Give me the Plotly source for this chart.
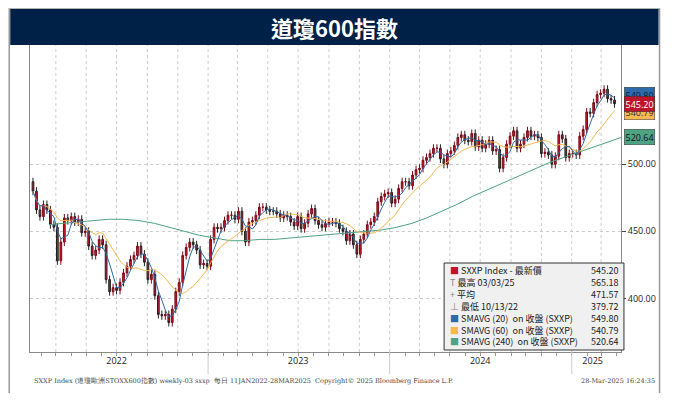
import pandas as pd
import plotly.graph_objects as go

closes_2022 = [480, 466, 461, 470, 466, 455, 453, 428, 442, 460, 458, 461, 457, 459, 449, 450,
               439, 432, 436, 444, 440, 414, 405, 408, 406, 412, 419, 424, 429, 432, 439, 433, 427,
               414, 418, 402, 388, 387, 388, 382, 392, 405, 412, 432, 438, 442, 440, 436, 425, 426, 424]
closes_2023 = [444, 453, 452, 453, 458, 462, 462, 459, 465, 450, 442, 457, 458, 462, 468, 468, 466,
               465, 465, 463, 460, 462, 461, 457, 454, 461, 452, 456, 463, 467, 458, 455, 453, 456,
               457, 457, 456, 452, 450, 443, 448, 440, 433, 444, 448, 455, 457, 461, 472, 476, 478, 479]
closes_2024 = [471, 474, 482, 487, 487, 484, 492, 496, 497, 503, 505, 508, 512, 512, 504, 500, 508, 510,
               514, 520, 522, 518, 517, 523, 513, 518, 512, 515, 518, 510, 511, 497, 505, 515, 521, 525,
               512, 515, 520, 525, 521, 522, 520, 508, 509, 507, 500, 506, 522, 519, 505, 508]
closes_2025 = [508, 507, 521, 526, 539, 538, 546, 552, 553, 556, 549, 548, 545.20]
first_open = 487

sma240_months = pd.date_range("2022-01-15", periods=39, freq="MS") + pd.Timedelta(days=14)
sma240_vals = [455, 456, 457, 458, 459, 459, 458, 456, 453, 450, 447, 445,
               443, 443, 444, 444, 445, 446, 447, 448, 449, 450, 451, 453,
               456, 460, 465, 470, 476, 481, 486, 491, 496, 501, 505, 509,
               513, 517, 520.64]

y_ticks = [400, 450, 500]
year_labels = ["2022", "2023", "2024", "2025"]
year_label_dates = ["2022-07-01", "2023-07-01", "2024-07-01", "2025-02-12"]

legend_rows = [("■", "#c0142c", "SXXP Index - 最新價", "545.20"),
               ("T", "#888", "最高 03/03/25", "565.18"),
               ("+", "#888", "平均", "471.57"),
               ("⊥", "#888", "最低 10/13/22", "379.72"),
               ("■", "#2f6aa8", "SMAVG (20)  on 收盤 (SXXP)", "549.80"),
               ("■", "#f7b84f", "SMAVG (60)  on 收盤 (SXXP)", "540.79"),
               ("■", "#4fa383", "SMAVG (240)  on 收盤 (SXXP)", "520.64")]

closes = closes_2022 + closes_2023 + closes_2024 + closes_2025
dates = pd.date_range("2022-01-14", periods=len(closes), freq="W-FRI")
s = pd.Series(closes, index=dates)
opens = [first_open] + closes[:-1]
highs = [max(o, c) + 3 for o, c in zip(opens, closes)]
lows = [min(o, c) - 3 for o, c in zip(opens, closes)]

OFF = 8  # page body margin
W, H = 676 - 2 * OFF, 401 - 2 * OFF
L, R, T, B = 30 - OFF, 628 - OFF, 45 - OFF, 352 - OFF
def px(x): return (x - OFF - L) / (R - L)
def py(y): return (B - (y - OFF)) / (B - T)

fig = go.Figure()
fig.add_trace(go.Candlestick(x=dates, open=opens, high=highs, low=lows, close=closes,
                             increasing=dict(line=dict(color="#7a0a16", width=1), fillcolor="#d0192f"),
                             decreasing=dict(line=dict(color="#222", width=1), fillcolor="#d0192f"),
                             whiskerwidth=0, showlegend=False))
fig.add_trace(go.Scatter(x=sma240_months, y=sma240_vals, mode="lines",
                         line=dict(color="#4fa383", width=1), showlegend=False))
fig.add_trace(go.Scatter(x=dates, y=s.rolling(12, min_periods=1).mean(), mode="lines",
                         line=dict(color="#f7b84f", width=1), showlegend=False))
fig.add_trace(go.Scatter(x=dates, y=s.rolling(4, min_periods=1).mean(), mode="lines",
                         line=dict(color="#2f6aa8", width=1), showlegend=False))

shapes = [
    dict(type="rect", xref="paper", yref="paper", x0=px(9), x1=px(667), y0=py(397), y1=py(9),
         line=dict(color="#999", width=1.5), fillcolor="rgba(0,0,0,0)", layer="below"),
    dict(type="rect", xref="paper", yref="paper", x0=px(10), x1=px(666), y0=py(45), y1=py(9),
         line=dict(width=0), fillcolor="#002147"),
    dict(type="rect", xref="paper", yref="paper", x0=px(449), x1=px(631), y0=py(350), y1=py(263),
         line=dict(color="#333", width=1), fillcolor="#f0f0f0"),
]
for g in pd.date_range("2022-03-01", "2025-03-01", freq="2MS"):
    shapes.append(dict(type="line", xref="x", yref="paper", x0=g, x1=g, y0=0, y1=1, layer="below",
                       line=dict(color="#ccc", width=1, dash="dot")))
for yr in ["2023-01-01", "2024-01-01", "2025-01-01"]:
    shapes.append(dict(type="line", xref="x", yref="paper", x0=yr, x1=yr, y0=py(352), y1=py(374),
                       line=dict(color="#ccc", width=1)))

ann = [dict(text="<b>道瓊600指數</b>", x=0.5 * (px(10) + px(666)), y=py(27), xref="paper", yref="paper",
            yanchor="middle", showarrow=False, font=dict(color="white", size=22, family="Noto Sans CJK TC"))]
for i, (sym, col, lab, val) in enumerate(legend_rows):
    yy = py(270.5 + i * 11.9)
    ann.append(dict(text=f"<span style='color:{col}'>{sym}</span> {lab}", x=px(453), y=yy, xref="paper", yref="paper",
                    xanchor="left", yanchor="middle", showarrow=False,
                    font=dict(size=9, color="#222", family="Noto Sans CJK TC")))
    ann.append(dict(text=val, x=px(627), y=yy, xref="paper", yref="paper", xanchor="right", yanchor="middle",
                    showarrow=False, font=dict(size=9, color="#222", family="Noto Sans CJK TC")))
for val, col, fc, shift in [("549.80", "#2f6aa8", "#123", 3), ("540.79", "#f7b84f", "#333", -2),
                            ("545.20", "#c0142c", "white", 0), ("520.64", "#4fa383", "#111", 0)]:
    v = float(val)
    ann.append(dict(text=val, x=1.0, y=v, xref="paper", yref="y", xanchor="left", yanchor="middle",
                    xshift=3, yshift=shift, showarrow=False, bgcolor=col, bordercolor="#333",
                    borderwidth=0.5, borderpad=1, font=dict(size=9, color=fc)))
foot = dict(size=6.5, color="#444", family="DejaVu Serif")
ann += [dict(text="SXXP Index (道瓊歐洲STOXX600指數) weekly-03 sxxp  每日 11JAN2022-28MAR2025", x=px(32), y=py(381),
             xref="paper", yref="paper", xanchor="left", yanchor="middle", showarrow=False, font=foot),
        dict(text="Copyright© 2025 Bloomberg Finance L.P.", x=px(460), y=py(381), xref="paper", yref="paper",
             yanchor="middle", showarrow=False, font=foot),
        dict(text="28-Mar-2025 16:24:35", x=px(664), y=py(381), xref="paper", yref="paper", xanchor="right",
             yanchor="middle", showarrow=False, font=foot)]

fig.update_layout(
    width=W, height=H, margin=dict(l=L, r=W - R, t=T, b=H - B),
    paper_bgcolor="white", plot_bgcolor="white", shapes=shapes, annotations=ann,
    xaxis=dict(range=["2022-01-08", "2025-04-10"], rangeslider=dict(visible=False),
               tickvals=year_label_dates, ticktext=year_labels, ticks="", showgrid=False,
               tickfont=dict(size=9, color="#222"), showline=True, linecolor="#888",
               minor=dict(dtick="M1", ticks="outside", ticklen=3, tickcolor="#999", showgrid=False)),
    yaxis=dict(side="right", range=[360, 589], tickvals=y_ticks, ticktext=[f"{v:.2f}" for v in y_ticks],
               ticks="outside", ticklen=4, tickfont=dict(size=9, color="#222"), showgrid=True,
               gridcolor="#ccc", griddash="dot", showline=True, linecolor="#888", mirror=True, zeroline=False),
)
fig.write_html("out.html")
